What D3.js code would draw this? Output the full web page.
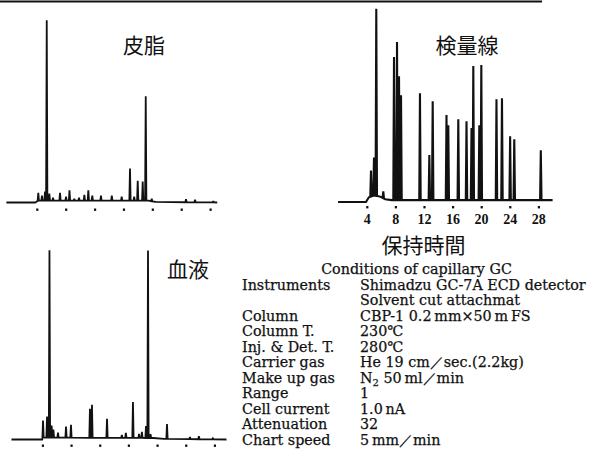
<!DOCTYPE html>
<html>
<head>
<meta charset="utf-8">
<script src="https://cdn.jsdelivr.net/npm/d3@7"></script>
<style>
  body { margin: 0; background: #fff; }
  svg { display: block; }
</style>
</head>
<body>
<svg id="chart" width="589" height="449"></svg>
<script>
// Retention time ticks (min)
const retentionTicks = [4, 8, 12, 16, 20, 24, 28];

// 皮脂 (sebum) — retention time (min) and relative peak height (% of largest)
const skinTimes   = [4.22, 4.73, 5.15, 5.39, 5.75, 6.26, 7.23, 8.06, 8.54, 9.2, 9.86, 10.6, 11.15, 11.7, 12.9, 14.4, 15.77, 16.92, 17.5, 17.99, 18.68, 19.1, 19.93, 24.68, 25.93, 28.46];
const skinHeights = [4.4, 2.8, 5.0, 100, 3.9, 1.7, 4.4, 2.2, 5.8, 1.1, 1.7, 3.3, 5.8, 2.8, 2.8, 2.8, 2.2, 17.8, 2.2, 11.1, 10.6, 57.8, 1.4, 1.7, 1.4, 0.8];
const skinDriftTimes  = [-0.2, 3.8, 4.2, 19.5, 20.5, 29.0];
const skinDriftLevels = [0, 0, 1.0, 1.0, 0.3, 0];

// 血液 (blood)
const bloodTimes   = [4.1, 4.66, 5.0, 5.3, 5.55, 6.19, 7.31, 8.0, 10.65, 10.93, 13.03, 15.1, 15.66, 16.65, 17.5, 17.9, 18.47, 18.75, 19.1, 21.4, 24.6, 25.85, 27.8];
const bloodHeights = [9.6, 11.2, 100, 6.4, 4.3, 2.7, 5.9, 6.9, 15.5, 17.6, 10.1, 1.6, 2.7, 19.2, 2.1, 3.2, 6.4, 100, 2.1, 8.0, 1.1, 1.6, 0.5];
const bloodDriftTimes  = [-0.3, 4.0, 4.2, 19.5, 21.0, 29.7];
const bloodDriftLevels = [0, 0, 1.0, 0.8, 0.3, 0];

// 検量線 (calibration standard)
const stdTimes   = [4.6, 5.02, 5.34, 6.32, 7.82, 8.24, 8.52, 8.8, 11.45, 12.76, 13.23, 15.16, 15.41, 16.81, 17.96, 18.66, 18.91, 19.75, 20.03, 22.15, 22.92, 24.06, 24.64, 28.35];
const stdHeights = [13.9, 20.3, 100, 3.7, 76.5, 84.5, 66.3, 56.1, 57.2, 24.1, 52.9, 45.5, 40.1, 43.3, 42.2, 38.5, 71.7, 40.1, 72.2, 54.0, 54.5, 34.2, 32.6, 26.7];
const stdDriftTimes  = [0, 3.9, 4.3, 5.0, 5.8, 6.6, 7.5, 30];
const stdDriftLevels = [0, 0, 2.5, 3.5, 3.0, 1.5, 1.0, 1.0];

// Analytical conditions table
const conditionsTitle  = "Conditions of capillary GC";
const conditionLabels  = ["Instruments", "", "Column", "Column T.", "Inj. & Det. T.", "Carrier gas", "Make up gas", "Range", "Cell current", "Attenuation", "Chart speed"];
const conditionValues  = ["Shimadzu GC-7A ECD detector", "Solvent cut attachmat", "CBP-1 0.2\u2009mm\u00d750\u2009m\u2009FS", "230\u2103", "280\u2103", "He 19 cm\uff0fsec.(2.2kg)", "N\u2082 50\u2009ml\uff0fmin", "1", "1.0\u2009nA", "32", "5\u2009mm\uff0fmin"];

const svg = d3.select("#chart");
const ink = "#111";

// top rule
svg.append("line")
  .attr("x1", 0).attr("x2", 542).attr("y1", 1.5).attr("y2", 1.5)
  .attr("stroke", ink).attr("stroke-width", 2);

function chromatogram(cfg) {
  const x = d3.scaleLinear().domain([4, 28]).range(cfg.xRange);
  const y = d3.scaleLinear().domain([0, 100]).range(cfg.yRange);
  const drift = d3.scaleLinear().domain(cfg.driftTimes).range(cfg.driftLevels).clamp(true);
  const w = cfg.halfWidth;

  const pts = [];
  cfg.times.forEach((t, i) => {
    pts.push([t - w, drift(t - w)]);
    pts.push([t, drift(t) + cfg.heights[i]]);
    pts.push([t + w, drift(t + w)]);
  });
  cfg.driftTimes.forEach((t, i) => {
    const inside = cfg.times.some(p => t > p - w && t < p + w);
    if (!inside) pts.push([t, cfg.driftLevels[i]]);
  });
  pts.sort((a, b) => a[0] - b[0]);

  const line = d3.line().x(d => x(d[0])).y(d => y(d[1]));
  svg.append("path")
    .attr("d", line(pts))
    .attr("fill", "none")
    .attr("stroke", ink)
    .attr("stroke-width", cfg.stroke)
    .attr("stroke-linejoin", "miter")
    .attr("stroke-miterlimit", 2);

  // tick marks are printed as small dots under the trace
  const axis = d3.axisBottom(x).tickValues(retentionTicks).tickSize(0)
    .tickFormat(cfg.labels ? d3.format("d") : () => "");
  const g = svg.append("g")
    .attr("transform", `translate(0,${cfg.dotY})`)
    .call(axis);
  g.select(".domain").remove();
  g.selectAll(".tick").append("rect")
    .attr("x", -1).attr("y", -1).attr("width", 2.2).attr("height", 2.4)
    .attr("fill", ink);
  g.selectAll(".tick text")
    .attr("y", cfg.labelDy || 0)
    .attr("fill", ink)
    .attr("font-family", "'Liberation Serif', 'DejaVu Serif', serif")
    .attr("font-weight", "bold")
    .attr("font-size", 14);

  svg.append("text")
    .attr("x", cfg.title[1]).attr("y", cfg.title[2])
    .attr("text-anchor", "middle")
    .attr("dominant-baseline", "central")
    .attr("font-family", "'Noto Sans CJK JP', sans-serif")
    .attr("font-size", 21)
    .attr("fill", ink)
    .text(cfg.title[0]);
}

chromatogram({
  times: skinTimes, heights: skinHeights,
  driftTimes: skinDriftTimes, driftLevels: skinDriftLevels,
  xRange: [36.7, 210], yRange: [202.5, 22], halfWidth: 0.09, stroke: 1.8,
  dotY: 209.5, labels: false, title: ["皮脂", 144, 44]
});

chromatogram({
  times: stdTimes, heights: stdHeights,
  driftTimes: stdDriftTimes, driftLevels: stdDriftLevels,
  xRange: [366.7, 538.3], yRange: [202, 15], halfWidth: 0.1, stroke: 2.1,
  dotY: 207, labels: true, labelDy: 7, title: ["検量線", 467, 44]
});

chromatogram({
  times: bloodTimes, heights: bloodHeights,
  driftTimes: bloodDriftTimes, driftLevels: bloodDriftLevels,
  xRange: [42.3, 214.3], yRange: [439.5, 252], halfWidth: 0.09, stroke: 1.8,
  dotY: 445.5, labels: false, title: ["血液", 188, 267.5]
});

// x-axis title of the calibration trace
svg.append("text")
  .attr("x", 423.5).attr("y", 244)
  .attr("text-anchor", "middle")
  .attr("dominant-baseline", "central")
  .attr("font-family", "'Noto Sans CJK JP', sans-serif")
  .attr("font-size", 21)
  .attr("fill", ink)
  .text("保持時間");

// conditions table
const serif = "'DejaVu Serif', 'Liberation Serif', serif";
const table = svg.append("g")
  .attr("font-family", serif)
  .attr("font-size", 14.3)
  .attr("fill", ink)
  .attr("stroke", ink)
  .attr("stroke-width", 0.25);

table.append("text")
  .attr("x", 416.5).attr("y", 274)
  .attr("text-anchor", "middle")
  .text(conditionsTitle);

const rowY = i => 289.5 + i * 15.5;
table.selectAll("text.label")
  .data(conditionLabels)
  .join("text")
  .attr("class", "label")
  .attr("x", 242)
  .attr("y", (d, i) => rowY(i))
  .text(d => d);

table.selectAll("text.value")
  .data(conditionValues)
  .join("text")
  .attr("class", "value")
  .attr("x", 360)
  .attr("y", (d, i) => rowY(i))
  .each(function (d) {
    const t = d3.select(this);
    if (d.startsWith("N\u2082")) {
      t.append("tspan").text("N");
      t.append("tspan").attr("font-size", 10).attr("dy", 3).text("2");
      t.append("tspan").attr("dy", -3).text(d.slice(2));
    } else {
      t.text(d);
    }
  });
</script>
</body>
</html>
